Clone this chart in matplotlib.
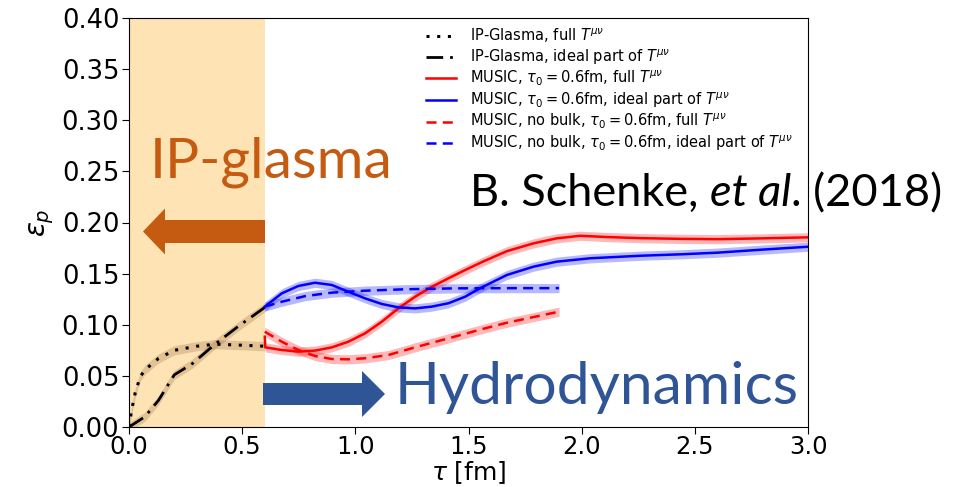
import matplotlib
matplotlib.use("Agg")
import matplotlib.pyplot as plt
from matplotlib.patches import FancyArrow
from matplotlib.transforms import IdentityTransform

W, H = 963, 487

# IP-Glasma stage (tau < 0.6 fm)
glasma_full_tau = [0, 0.012, 0.027, 0.049, 0.071, 0.13, 0.2, 0.3, 0.38, 0.5, 0.6]
glasma_full_eps = [0, 0.017, 0.033, 0.049, 0.056, 0.067, 0.075, 0.079, 0.081, 0.080, 0.079]
glasma_ideal_tau = [0, 0.07, 0.13, 0.2, 0.28, 0.38, 0.48, 0.6]
glasma_ideal_eps = [0, 0.010, 0.026, 0.051, 0.062, 0.081, 0.098, 0.117]

# MUSIC hydro stage
music_full_tau = [0.6, 0.602, 0.675, 0.748, 0.822, 0.896, 0.969, 1.043, 1.117, 1.19, 1.264,
                  1.337, 1.411, 1.485, 1.566, 1.67, 1.787, 1.89, 1.993, 2.11, 2.26, 2.44,
                  2.6, 2.8, 3.0]
music_full_eps = [0.0883, 0.0779, 0.0753, 0.0737, 0.0747, 0.0779, 0.0834, 0.0916, 0.103,
                  0.116, 0.1274, 0.137, 0.1454, 0.1535, 0.162, 0.172, 0.1796, 0.1845, 0.187,
                  0.1858, 0.1847, 0.184, 0.1837, 0.1845, 0.1855]
music_ideal_tau = [0.6, 0.675, 0.748, 0.822, 0.896, 0.969, 1.043, 1.117, 1.19, 1.264, 1.337,
                   1.411, 1.485, 1.55, 1.67, 1.787, 1.89, 2.037, 2.26, 2.44, 2.6, 2.8, 3.0]
music_ideal_eps = [0.1177, 0.1307, 0.1379, 0.1411, 0.1389, 0.1323, 0.1258, 0.1203, 0.117,
                   0.116, 0.1177, 0.121, 0.1274, 0.1356, 0.1487, 0.1568, 0.1617, 0.165,
                   0.1675, 0.1689, 0.1705, 0.1735, 0.1763]
nobulk_full_tau = [0.6, 0.675, 0.748, 0.822, 0.896, 0.969, 1.043, 1.146, 1.264, 1.411, 1.573,
                   1.67, 1.9]
nobulk_full_eps = [0.0932, 0.0834, 0.0753, 0.0694, 0.0665, 0.0662, 0.0672, 0.0704, 0.0779,
                   0.0867, 0.0965, 0.102, 0.1128]
nobulk_ideal_tau = [0.6, 0.675, 0.778, 0.896, 1.043, 1.22, 1.44, 1.7, 1.9]
nobulk_ideal_eps = [0.1177, 0.1225, 0.128, 0.1314, 0.1333, 0.1347, 0.1356, 0.1358, 0.1358]

band = 0.0045  # half width of the event-average uncertainty band

y_ticks = [0.00, 0.05, 0.10, 0.15, 0.20, 0.25, 0.30, 0.35, 0.40]
x_ticks = [0.0, 0.5, 1.0, 1.5, 2.0, 2.5, 3.0]

ORANGE = "#C55A11"
BLUE = "#2F5597"


def curve(ax, t, e, color, ls, label, band_color=None, lw=1.8):
    lo = [v - band for v in e]
    hi = [v + band for v in e]
    ax.fill_between(t, lo, hi, color=band_color or color, alpha=0.28, lw=0)
    ax.plot(t, e, color=color, ls=ls, lw=lw, label=label)


fig = plt.figure(figsize=(W / 100, H / 100), dpi=100)
ax = fig.add_axes([129 / W, 60 / H, 679 / W, 409 / H])

ax.axvspan(0, 0.6, color="#FEE3B4", lw=0, zorder=0)

curve(ax, glasma_full_tau, glasma_full_eps, "black", (0, (1, 2.5)),
      r"IP-Glasma, full $T^{\mu\nu}$", band_color="#9a6a40", lw=2.2)
curve(ax, glasma_ideal_tau, glasma_ideal_eps, "black", (0, (6, 2.5, 1, 2.5)),
      r"IP-Glasma, ideal part of $T^{\mu\nu}$", band_color="#9a6a40", lw=2)
curve(ax, music_full_tau, music_full_eps, "red", "-",
      r"MUSIC, $\tau_0 = 0.6$fm, full $T^{\mu\nu}$")
curve(ax, music_ideal_tau, music_ideal_eps, "blue", "-",
      r"MUSIC, $\tau_0 = 0.6$fm, ideal part of $T^{\mu\nu}$")
curve(ax, nobulk_full_tau, nobulk_full_eps, "red", (0, (4, 2.5)),
      r"MUSIC, no bulk, $\tau_0 = 0.6$fm, full $T^{\mu\nu}$")
curve(ax, nobulk_ideal_tau, nobulk_ideal_eps, "blue", (0, (4, 2.5)),
      r"MUSIC, no bulk, $\tau_0 = 0.6$fm, ideal part of $T^{\mu\nu}$")

ax.set_xlim(0, 3.0)
ax.set_ylim(0, 0.40)
ax.set_xticks(x_ticks)
ax.set_yticks(y_ticks)
ax.set_xticklabels([f"{v:.1f}" for v in x_ticks])
ax.set_yticklabels([f"{v:.2f}" for v in y_ticks])
ax.tick_params(labelsize=18.5, length=5, width=0.8, pad=2)
ax.tick_params(axis="x", labelsize=17.5, pad=1)
ax.set_xlabel(r"$\tau$ [fm]", fontsize=18, labelpad=0)
ax.set_ylabel(r"$\epsilon_p$", fontsize=20, labelpad=4)

ax.legend(loc="upper right", bbox_to_anchor=(0.997, 1.012), frameon=False, fontsize=10.5,
          labelspacing=0.15, handlelength=2.05, handletextpad=0.95)

# overlay labels and arrows
fig.text(150 / W, 1 - 178 / H, "IP-glasma", color=ORANGE, fontsize=41,
         family="Lato", va="baseline", ha="left")
fig.text(395 / W, 1 - 404 / H, "Hydrodynamics", color=BLUE, fontsize=42.3,
         family="Lato", va="baseline", ha="left")

fig.canvas.draw()
r = fig.canvas.get_renderer()
x0, base = 470, 1 - 206 / H
parts = [("B. Schenke, ", "normal"), ("et al", "italic"), (". (2018)", "normal")]
for s, style in parts:
    t = fig.text(x0 / W, base, s, fontsize=32.5, family="Lato", style=style,
                 va="baseline", ha="left")
    x0 += t.get_window_extent(renderer=r).width

for tail, tip, yc, w, hw, hl, c in [(265, 143, 231.5, 23, 46, 22, ORANGE),
                                    (263, 385, 394, 22, 46, 23, BLUE)]:
    arrow = FancyArrow(tail, H - yc, tip - tail, 0, width=w, head_width=hw, head_length=hl,
                       length_includes_head=True, color=c, lw=0, transform=IdentityTransform())
    fig.patches.append(arrow)

fig.savefig("out.png", dpi=100)
